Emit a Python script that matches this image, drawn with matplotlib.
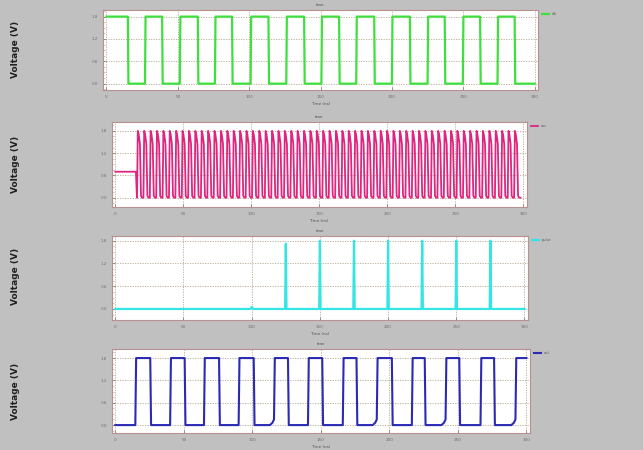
import numpy as np
import matplotlib.pyplot as plt
from matplotlib.ticker import AutoMinorLocator

# time (ns) of the edges
clk_fall = [15, 39, 64, 88, 113.5, 138.5, 163, 187.6, 212.6, 237, 261.8, 286]
clk_rise = [27, 51.4, 76, 101, 126, 150.6, 175, 200, 225, 249.7, 274]

osc_hold_v = 0.70          # level before oscillation starts
osc_start = 16.0
osc_stop = 298.0
osc_cycles = 60
osc_shape_t = [0.0, 0.12, 0.25, 0.45, 0.62, 0.80, 1.0]
osc_shape_v = [0.0, 1.80, 1.72, 1.45, 0.05, 0.0, 0.0]

spike_t = [125, 150, 175, 200, 225, 250, 275]
spike_v = [1.72, 1.80, 1.80, 1.80, 1.80, 1.80, 1.80]

out_rise = [14.6, 40, 64.7, 90, 115.8, 140.6, 166, 190.8, 216.4, 241, 266.5, 292]
out_fall = [25.5, 50.6, 75.7, 101, 126, 151, 176, 201.8, 225.8, 251, 276.4]
out_slow = [115.8, 190.8, 241, 292]   # rises with a small ramp at the foot

VH = 1.8
T_END = 300


def square(rise, fall, start_high):
    edges = sorted([(t, 1) for t in rise] + [(t, 0) for t in fall])
    level = VH if start_high else 0.0
    xs, ys = [0], [level]
    for t, up in edges:
        xs += [t, t + 0.4]
        ys += [level, VH if up else 0.0]
        level = VH if up else 0.0
    xs.append(T_END)
    ys.append(level)
    return np.array(xs), np.array(ys)


def osc_wave():
    per = (osc_stop - osc_start) / osc_cycles
    xs = [0, osc_start - 0.8, osc_start - 0.3, osc_start]
    ys = [osc_hold_v, osc_hold_v, 0.2, 0.0]
    for k in range(osc_cycles):
        for ft, fv in zip(osc_shape_t[1:], osc_shape_v[1:]):
            xs.append(osc_start + (k + ft) * per)
            ys.append(fv)
    return np.array(xs), np.array(ys)


def spikes():
    xs, ys = [0, 99, 100, 101], [0, 0, 0.05, 0]
    for t, v in zip(spike_t, spike_v):
        xs += [t - 0.5, t, t + 0.5]
        ys += [0, v, 0]
    xs.append(T_END)
    ys.append(0)
    return np.array(xs), np.array(ys)


def out_wave():
    edges = sorted([(t, 1) for t in out_rise] + [(t, 0) for t in out_fall])
    level = 0.0
    xs, ys = [0], [0.0]
    for t, up in edges:
        if up and t in out_slow:
            xs += [t - 3, t - 1.2, t]
            ys += [0.0, 0.06, 0.15]
        else:
            xs.append(t)
            ys.append(level)
        xs.append(t + 0.6)
        ys.append(VH if up else 0.0)
        level = VH if up else 0.0
    xs.append(T_END)
    ys.append(level)
    return np.array(xs), np.array(ys)


bg = '#c0c0c0'
edge = '#b89090'
fig = plt.figure(figsize=(6.43, 4.5), dpi=100, facecolor=bg)

panels = [
    ([0.160, 0.800, 0.677, 0.178], square(clk_rise, clk_fall, True), '#3ee03e', 1.6, (-0.17, 1.98), 'clk'),
    ([0.174, 0.540, 0.645, 0.189], osc_wave(), '#e0257f', 1.3, (-0.25, 2.04), 'osc'),
    ([0.174, 0.289, 0.647, 0.187], spikes(), '#35e5e5', 1.6, (-0.29, 1.93), 'pulse'),
    ([0.174, 0.038, 0.650, 0.187], out_wave(), '#2a2ab5', 1.5, (-0.21, 2.05), 'out'),
]
ylab_y = [0.89, 0.635, 0.385, 0.13]

for (pos, (x, y), col, lw, ylim, name), ly in zip(panels, ylab_y):
    ax = fig.add_axes(pos)
    ax.plot(x, y, color=col, lw=lw, label=name)
    ax.set_xlim(-2.5, 302.5)
    ax.set_ylim(*ylim)
    ax.set_xticks([0, 50, 100, 150, 200, 250, 300])
    ax.set_yticks([0, 0.6, 1.2, 1.8])
    ax.yaxis.set_minor_locator(AutoMinorLocator(4))
    ax.tick_params(labelsize=3, colors='#707070', length=2, width=0.5, direction='in')
    ax.tick_params(which='minor', length=1.5, width=0.4, direction='in', colors=edge)
    ax.grid(True, color='#b8a890', ls=(0, (1.5, 1.5)), lw=0.6)
    for s in ax.spines.values():
        s.set_color(edge)
        s.set_linewidth(0.8)
    ax.set_title('tran', fontsize=3, color='#505050', pad=3)
    ax.set_xlabel('Time (ns)', fontsize=3, color='#505050', labelpad=2)
    ax.legend(loc='upper left', bbox_to_anchor=(1.005, 1.0), fontsize=2.5, frameon=False,
              handlelength=2.0, borderaxespad=0.2, labelcolor='#505050')
    fig.text(0.024, ly, 'Voltage (V)', rotation=90, fontsize=6.5, fontweight='bold',
             ha='center', va='center', color='#202020')

fig.savefig('out.png', dpi=100, facecolor=bg)
